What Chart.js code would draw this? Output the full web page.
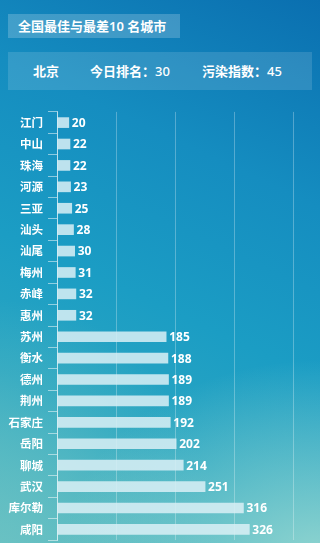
<!DOCTYPE html>
<html><head><meta charset="utf-8">
<script src="https://cdn.jsdelivr.net/npm/chart.js@4"></script>
<style>
html,body{margin:0;padding:0;width:320px;height:543px;overflow:hidden;}
body{position:relative;font-family:"Noto Sans","Noto Sans CJK SC",sans-serif;color:#fff;
background:
 radial-gradient(ellipse 260px 200px at 320px 560px, rgba(160,220,210,0.85), rgba(160,220,210,0) 100%),
 radial-gradient(ellipse 220px 260px at 0px 560px, rgba(110,195,195,0.8), rgba(110,195,195,0) 100%),
 linear-gradient(205deg,#0a6fb0 0%,#158dc0 30%,#1b9dc4 55%,#2aa6c2 75%,#5bbcc2 100%);}
.box1{position:absolute;left:8px;top:14px;width:172px;height:24px;background:rgba(255,255,255,0.2);}
.box2{position:absolute;left:8px;top:52px;width:304px;height:38px;background:rgba(255,255,255,0.13);}
.t{position:absolute;white-space:nowrap;color:#fff;}
#wrap{position:absolute;left:0;top:100px;width:320px;height:452px;}
</style></head><body>
<div class="box1"></div>
<div class="t" style="left:18px;top:16px;font-size:13px;font-weight:600;line-height:20px;">全国最佳与最差10 名城市</div>
<div class="box2"></div>
<div class="t" style="left:33px;top:61px;font-size:13px;font-weight:600;line-height:20px;">北京</div>
<div class="t" style="left:90px;top:61px;font-size:13px;font-weight:600;line-height:20px;">今日排名：<span style="font-weight:500">30</span></div>
<div class="t" style="left:202px;top:61px;font-size:13px;font-weight:600;line-height:20px;">污染指数：<span style="font-weight:500">45</span></div>
<div id="wrap"><canvas id="c"></canvas></div>
<script>
const categories = ["江门","中山","珠海","河源","三亚","汕头","汕尾","梅州","赤峰","惠州","苏州","衡水","德州","荆州","石家庄","岳阳","聊城","武汉","库尔勒","咸阳"];
const values = [20,22,22,23,25,28,30,31,32,32,185,188,189,189,192,202,214,251,316,326];
const xMin = 0, xMax = 400, xStep = 100;

const valueLabels = {
  id:'valueLabels',
  afterDatasetsDraw(chart){
    const ctx = chart.ctx;
    const meta = chart.getDatasetMeta(0);
    ctx.save();
    ctx.fillStyle = '#fff';
    ctx.font = 'bold 12px "Noto Sans","Noto Sans CJK SC",sans-serif';
    ctx.textAlign = 'left';
    ctx.textBaseline = 'middle';
    meta.data.forEach((bar,i)=>{
      ctx.fillText(String(values[i]), bar.x + 3, bar.y + 1);
    });
    ctx.restore();
  }
};

new Chart(document.getElementById('c'),{
  type:'bar',
  data:{labels:categories,datasets:[{data:values,backgroundColor:'rgba(218,240,246,0.85)',barThickness:10,borderWidth:0}]},
  options:{
    indexAxis:'y',responsive:true,maintainAspectRatio:false,animation:false,
    layout:{padding:{top:10,bottom:5,right:27,left:0}},
    plugins:{legend:{display:false},tooltip:{enabled:false}},
    scales:{
      x:{min:xMin,max:xMax,ticks:{display:false,stepSize:xStep},
         grid:{color:'rgba(255,255,255,0.28)',lineWidth:1,drawTicks:false},
         border:{display:false},
         afterFit(s){s.height=0;}},
      y:{grid:{drawOnChartArea:false,drawTicks:true,tickLength:9,color:'rgba(255,255,255,0.5)',offset:true},
         border:{display:true,color:'rgba(255,255,255,0.6)',width:1},
         ticks:{color:'#fff',padding:5,font:{size:11.5,weight:'bold',family:'"Noto Sans CJK SC","Noto Sans",sans-serif'}},
         afterFit(s){s.width=57;}}
    }
  },
  plugins:[valueLabels]
});
</script>
</body></html>
